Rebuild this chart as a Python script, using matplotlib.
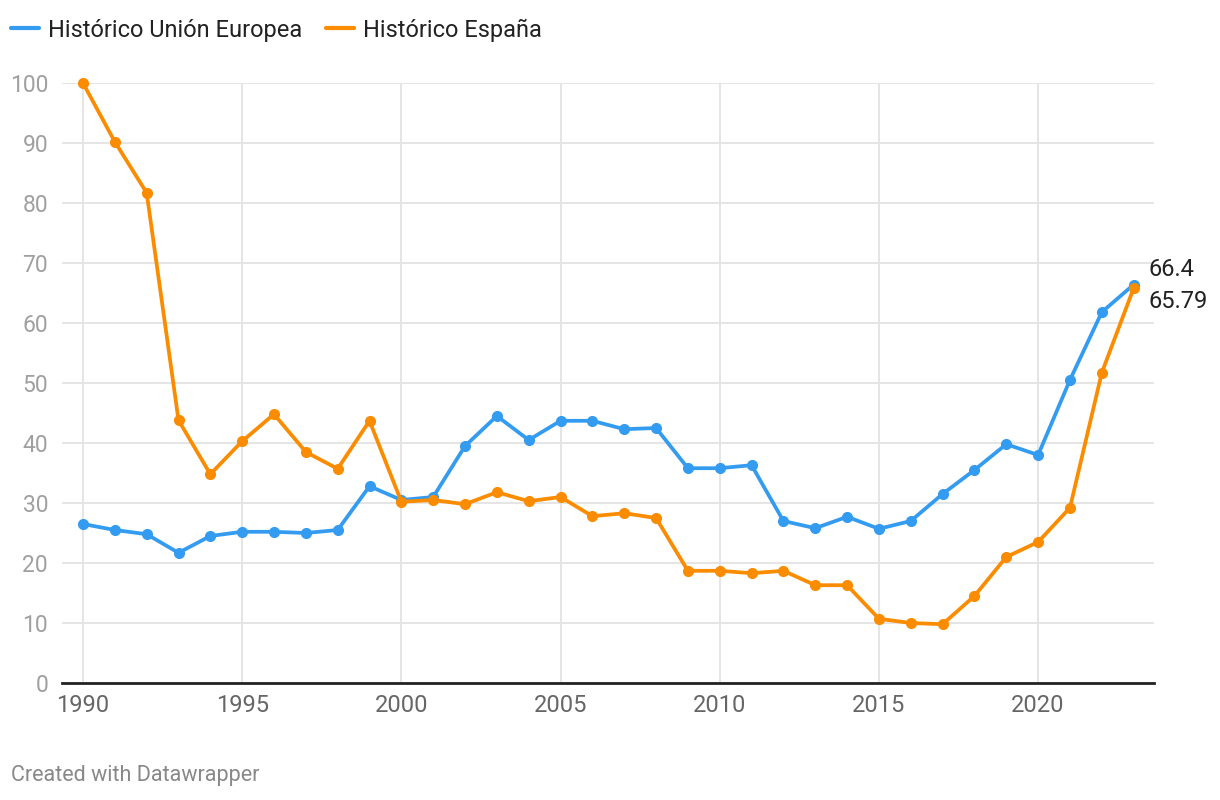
import numpy as np
import matplotlib
matplotlib.use('Agg')
import matplotlib.pyplot as plt
from matplotlib.lines import Line2D

plt.rcParams['font.family'] = ['Roboto', 'DejaVu Sans']

years = list(range(1990, 2024))
eu_values = [26.5, 25.5, 24.8, 21.7, 24.5, 25.2, 25.2, 25.0, 25.5, 32.8,
             30.5, 31.0, 39.5, 44.5, 40.5, 43.7, 43.7, 42.3, 42.5, 35.8,
             35.8, 36.3, 27.0, 25.8, 27.7, 25.7, 27.0, 31.5, 35.5, 39.8,
             38.0, 50.5, 61.8, 66.4]
es_values = [100.0, 90.2, 81.7, 43.8, 34.8, 40.3, 44.8, 38.5, 35.7, 43.7,
             30.2, 30.5, 29.8, 31.8, 30.3, 31.0, 27.8, 28.3, 27.5, 18.7,
             18.7, 18.3, 18.7, 16.3, 16.3, 10.7, 10.0, 9.8, 14.5, 21.0,
             23.5, 29.2, 51.7, 65.79]
series_names = ['Histórico Unión Europea', 'Histórico España']
end_labels = ['66.4', '65.79']
y_ticks = [0, 10, 20, 30, 40, 50, 60, 70, 80, 90, 100]
x_ticks = [1990, 1995, 2000, 2005, 2010, 2015, 2020]

blue = '#349cf0'
orange = '#fb8c00'

fig = plt.figure(figsize=(12.2, 8), dpi=100)
ax = fig.add_axes([0.0508, 0.14625, 0.8951, 0.75])

ax.plot(years, eu_values, color=blue, lw=2.7, marker='o', ms=7, clip_on=False, zorder=3)
ax.plot(years, es_values, color=orange, lw=2.7, marker='o', ms=7, clip_on=False, zorder=3)

ax.set_xlim(1989.34, 2023.64)
ax.set_ylim(0, 100)
ax.set_yticks(y_ticks)
ax.set_xticks(x_ticks)

ax.grid(True, color='#e3e3e3', lw=1.3, zorder=0)
ax.set_axisbelow(True)
for s in ['top', 'right', 'left']:
    ax.spines[s].set_visible(False)
ax.spines['bottom'].set_color('#222222')
ax.spines['bottom'].set_linewidth(2)
ax.spines['bottom'].set_zorder(4)

ax.tick_params(axis='y', length=0, labelsize=16.5, labelcolor='#a0a0a0', pad=10)
ax.tick_params(axis='x', length=0, labelsize=17, labelcolor='#666666', pad=8)

# end-of-line value labels
ax.annotate(end_labels[0], (years[-1], eu_values[-1]), xytext=(15, 15),
            textcoords='offset pixels', va='center', ha='left', fontsize=17,
            color='#222222', annotation_clip=False)
ax.annotate(end_labels[1], (years[-1], es_values[-1]), xytext=(15, -13),
            textcoords='offset pixels', va='center', ha='left', fontsize=17,
            color='#222222', annotation_clip=False)

handles = [Line2D([], [], color=blue, lw=3, solid_capstyle='round'),
           Line2D([], [], color=orange, lw=3, solid_capstyle='round')]
fig.legend(handles, series_names, loc='center left', bbox_to_anchor=(0.009, 0.9625),
           ncol=2, frameon=False, fontsize=17, handlelength=1.2, handletextpad=0.38,
           columnspacing=1.0, borderpad=0, borderaxespad=0, labelcolor='#222222')

fig.text(0.009, 0.03, 'Created with Datawrapper', fontsize=15.5, color='#888888',
         va='center', ha='left')

fig.savefig('out.png', dpi=100)
